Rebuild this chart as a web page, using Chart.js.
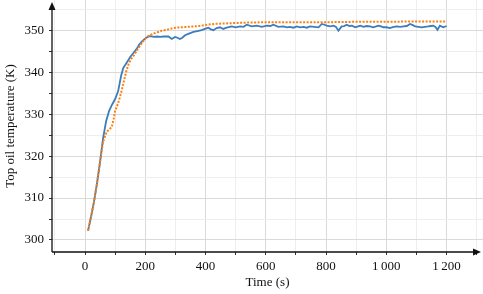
<!DOCTYPE html>
<html>
<head>
<meta charset="utf-8">
<script src="https://cdn.jsdelivr.net/npm/chart.js@4.4.0/dist/chart.umd.min.js"></script>
<style>
  body { margin: 0; background: #fff; }
  #wrap { width: 483px; height: 294px; }
</style>
</head>
<body>
<div id="wrap"><canvas id="chart"></canvas></div>
<script>
// measured top oil temperature (blue, solid)
const measTime = [10, 20, 30, 40, 50, 60, 70, 80, 90, 100, 110, 120, 127, 135, 145, 150, 160, 172, 180, 190,
  199, 208, 216, 230, 240, 249, 262, 277, 288, 299, 307, 315, 323, 332, 345, 360, 373, 387, 398, 409,
  418, 426, 437, 448, 459, 470, 487, 500, 515, 526, 537, 553, 570, 587, 603, 615, 625, 642, 658, 670,
  680, 692, 703, 714, 725, 736, 747, 761, 775, 786, 795, 802, 814, 825, 833, 841, 852, 860, 869, 877,
  886, 897, 906, 914, 924, 935, 946, 957, 966, 974, 983, 990, 1001, 1012, 1024, 1035, 1046, 1057, 1068, 1079,
  1088, 1096, 1107, 1117, 1128, 1139, 1148, 1156, 1163, 1170, 1178, 1189, 1200];
const measTemp = [302.2, 305.5, 309.2, 313.6, 318.6, 324.3, 328.3, 330.8, 332.3, 333.6, 335.5, 339.2, 341.0, 341.9, 343.0, 343.6, 344.5, 345.6, 346.6, 347.4,
  348.0, 348.4, 348.6, 348.4, 348.5, 348.4, 348.5, 348.5, 347.9, 348.4, 348.2, 347.9, 348.2, 348.8, 349.2, 349.6, 349.8, 350.0, 350.3, 350.6,
  350.2, 350.0, 350.5, 350.7, 350.3, 350.6, 350.9, 350.7, 350.9, 350.8, 351.3, 350.9, 351.1, 350.8, 351.1, 351.0, 351.3, 350.8, 350.9, 350.7,
  350.8, 350.6, 350.9, 350.7, 350.8, 350.6, 350.9, 350.8, 350.7, 351.5, 351.3, 351.1, 350.9, 351.1, 350.8, 349.9, 350.9, 351.0, 351.3, 351.0,
  351.1, 350.7, 350.9, 351.1, 350.8, 351.0, 350.9, 350.7, 350.9, 351.1, 350.9, 350.7, 350.7, 350.5, 350.8, 350.9, 350.8, 350.9, 351.0, 351.5,
  351.2, 350.9, 350.8, 350.7, 350.8, 350.9, 351.0, 351.1, 350.8, 350.1, 351.1, 350.7, 351.0];

// simulated top oil temperature (orange, dotted)
const simTime = [10, 20, 30, 40, 50, 60, 66, 72, 80, 89, 95, 100, 110, 116, 122, 130, 138, 145, 152, 160,
  166, 175, 183, 191, 199, 210, 227, 240, 255, 270, 282, 300, 320, 338, 360, 380, 404, 430, 460, 492,
  530, 600, 700, 800, 900, 1000, 1100, 1200];
const simTemp = [302.2, 305.6, 309.2, 313.6, 318.8, 323.4, 324.6, 325.8, 326.3, 327.0, 328.8, 330.8, 332.6, 334.1, 335.7, 338.2, 340.5, 342.0, 343.0, 343.8,
  344.4, 345.5, 346.3, 347.2, 347.9, 348.6, 349.2, 349.5, 349.9, 350.1, 350.3, 350.6, 350.7, 350.8, 350.9, 351.0, 351.3, 351.5, 351.6, 351.7,
  351.8, 351.9, 351.9, 351.9, 352.0, 352.0, 352.1, 352.1];

const xLabelValues = [0, 200, 400, 600, 800, 1000, 1200];
const yLabelValues = [300, 310, 320, 330, 340, 350];

const pts = (ts, vs) => ts.map((t, i) => ({ x: t, y: vs[i] }));
const font = { family: '"Liberation Serif", "Times New Roman", serif', size: 13 };
const near = (v, list) => list.some(l => Math.abs(v - l) < 1e-6);

function gridColor(ctx, major) {
    const v = ctx.tick ? ctx.tick.value : null;
    if (v === null) return 'rgba(0,0,0,0)';
    if (Math.abs(v / major - Math.round(v / major)) < 1e-6) return '#dadada';
    if (Math.abs(v / (major / 2) - Math.round(v / (major / 2))) < 1e-6) return '#eeeeee';
    return 'rgba(0,0,0,0)';
}

// black axis lines with arrow heads
const arrowAxes = {
    id: 'arrowAxes',
    afterDraw(chart) {
        const { ctx, chartArea } = chart;
        const x0 = chartArea.left, y0 = chartArea.bottom;
        const xEnd = chartArea.right - 2, yEnd = chartArea.top + 2;
        ctx.save();
        ctx.strokeStyle = '#111';
        ctx.fillStyle = '#111';
        ctx.lineWidth = 1.3;
        ctx.beginPath();
        ctx.moveTo(x0, y0); ctx.lineTo(xEnd - 5, y0);
        ctx.moveTo(x0, y0); ctx.lineTo(x0, yEnd + 5);
        ctx.stroke();
        ctx.beginPath();
        ctx.moveTo(xEnd, y0); ctx.lineTo(xEnd - 8, y0 - 3.5); ctx.lineTo(xEnd - 8, y0 + 3.5); ctx.closePath();
        ctx.moveTo(x0, yEnd); ctx.lineTo(x0 - 3.5, yEnd + 8); ctx.lineTo(x0 + 3.5, yEnd + 8); ctx.closePath();
        ctx.fill();
        ctx.restore();
    }
};

new Chart(document.getElementById('chart'), {
    type: 'line',
    data: {
        datasets: [
            { label: 'Simulated', data: pts(simTime, simTemp), borderColor: '#ff7f0e', borderWidth: 2,
              borderDash: [2, 1.5], pointRadius: 0, tension: 0, fill: false },
            { label: 'Measured', data: pts(measTime, measTemp), borderColor: '#3b7dbd', borderWidth: 1.8,
              pointRadius: 0, tension: 0, fill: false }
        ]
    },
    options: {
        responsive: true,
        maintainAspectRatio: false,
        animation: false,
        layout: { padding: 0 },
        plugins: { legend: { display: false }, tooltip: { enabled: false } },
        scales: {
            x: {
                type: 'linear', min: -109.6, max: 1321,
                border: { display: false },
                grid: { color: c => gridColor(c, 200), tickColor: '#333', tickLength: 3, drawTicks: true },
                ticks: {
                    stepSize: 100, autoSkip: false, includeBounds: false, maxRotation: 0, padding: 4, color: '#111', font,
                    callback: v => near(v, xLabelValues) ? (v >= 1000 ? String(Math.round(v)).replace(/(\d)(\d{3})$/, '$1\u2009$2') : String(Math.round(v))) : ''
                },
                title: { display: true, text: 'Time (s)', color: '#111', font, padding: { top: 0, bottom: 4 } },
                afterFit: s => { s.height = 42; s.paddingLeft = 0; s.paddingRight = 0; }
            },
            y: {
                type: 'linear', min: 297.14, max: 357.2,
                border: { display: false },
                grid: { color: c => gridColor(c, 10), tickColor: '#333', tickLength: 3 },
                ticks: {
                    stepSize: 5, autoSkip: false, includeBounds: false, padding: 5, color: '#111', font,
                    callback: v => near(v, yLabelValues) ? String(Math.round(v)) : ''
                },
                title: { display: true, text: 'Top oil temperature (K)', color: '#111', font, padding: { top: 3, bottom: 0 } },
                afterFit: s => { s.width = 52; s.paddingTop = 0; s.paddingBottom = 0; }
            }
        }
    },
    plugins: [arrowAxes]
});
</script>
</body>
</html>
